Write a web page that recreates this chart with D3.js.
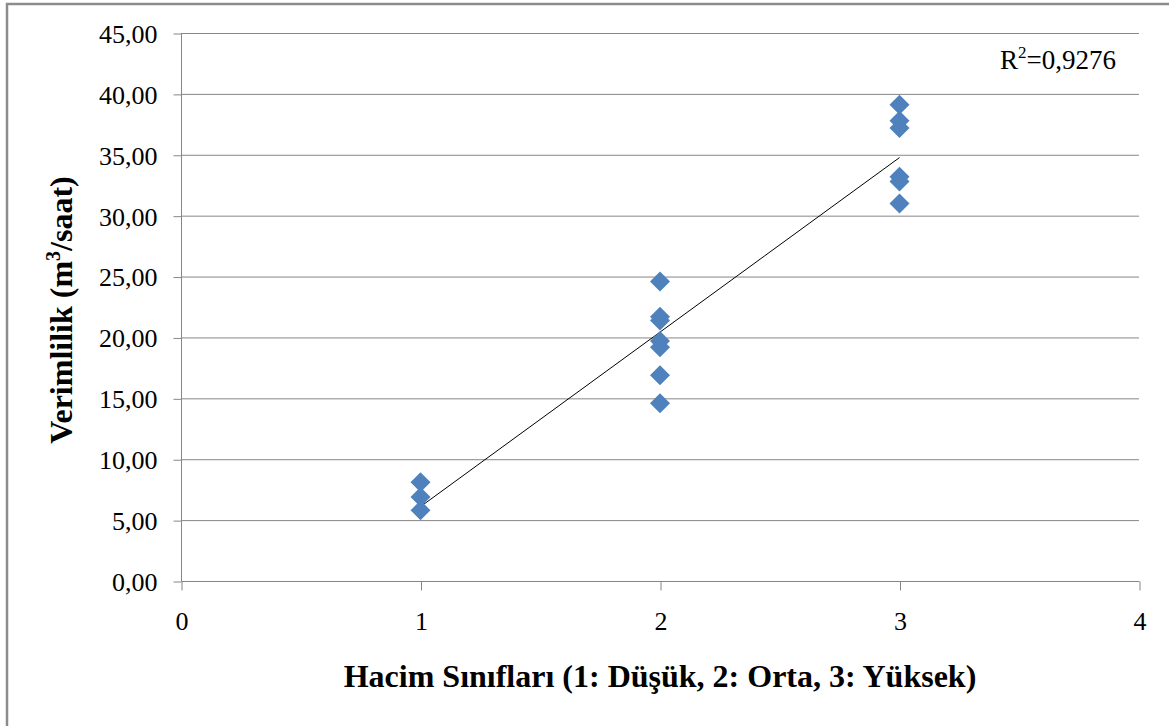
<!DOCTYPE html>
<html>
<head>
<meta charset="utf-8">
<script src="https://cdn.jsdelivr.net/npm/d3@7"></script>
<style>
  html, body { margin: 0; padding: 0; background: #fff; }
  svg { display: block; }
  text { font-family: "Liberation Serif", "Times New Roman", serif; fill: #000; }
</style>
</head>
<body>
<svg id="chart" width="1169" height="726"></svg>
<script>
// Volume class (x) and productivity in m3/hour (y) for each observation
const hacimSinifi = [1, 1, 1,
                     2, 2, 2, 2, 2, 2, 2,
                     3, 3, 3, 3, 3, 3];
const verimlilik  = [8.1, 6.9, 5.8,
                     24.6, 21.7, 21.4, 19.7, 19.2, 16.9, 14.6,
                     39.1, 37.8, 37.2, 33.2, 32.8, 31.0];
const xTicks = [0, 1, 2, 3, 4];
const yTicks = [0, 5, 10, 15, 20, 25, 30, 35, 40, 45];
const r2Label = "0,9276";

const points = hacimSinifi.map((x, i) => ({ x, y: verimlilik[i] }));

const svg = d3.select("#chart");
const margin = { left: 181, right: 30, top: 33, bottom: 145 };
const W = 1169, H = 726;
const serif = '"Liberation Serif", "Times New Roman", serif';
const grid = "#868686";

// outer frame
svg.append("rect")
  .attr("x", 7).attr("y", 4)
  .attr("width", W + 10).attr("height", H + 10)
  .attr("fill", "none").attr("stroke", "#8c8c8c").attr("stroke-width", 2.5);

const x = d3.scaleLinear().domain([0, 4]).range([margin.left, W - margin.right]);
const y = d3.scaleLinear().domain([0, 45]).range([H - margin.bottom, margin.top]);

const fmt = v => d3.format(".2f")(v).replace(".", ",");

// horizontal gridlines
svg.append("g").selectAll("line")
  .data(yTicks.filter(d => d > 0))
  .join("line")
  .attr("x1", x(0)).attr("x2", x(4))
  .attr("y1", d => y(d) + 0.5).attr("y2", d => y(d) + 0.5)
  .attr("stroke", grid).attr("stroke-width", 1);

// y axis
const yAxis = svg.append("g")
  .attr("transform", `translate(${x(0) + 0.5},0.5)`)
  .call(d3.axisLeft(y).tickValues(yTicks).tickFormat(fmt).tickSize(8).tickPadding(16))
  .attr("font-family", serif).attr("font-size", 26);
yAxis.select(".domain").attr("stroke", grid).attr("d", `M0,${y(45)}V${y(0)}`);
yAxis.selectAll(".tick line").attr("stroke", grid);
yAxis.selectAll(".tick text").attr("fill", "#000").attr("dy", "0.34em");

// x axis
const xAxis = svg.append("g")
  .attr("transform", `translate(0.5,${y(0) + 0.5})`)
  .call(d3.axisBottom(x).tickValues(xTicks).tickFormat(d3.format("d")).tickSize(9).tickPadding(21))
  .attr("font-family", serif).attr("font-size", 26);
xAxis.select(".domain").attr("stroke", grid).attr("d", `M${x(0)},0H${x(4)}`);
xAxis.selectAll(".tick line").attr("stroke", grid);
xAxis.selectAll(".tick text").attr("fill", "#000");

// least squares trend line over the observed class range
const xm = d3.mean(points, d => d.x), ym = d3.mean(points, d => d.y);
const slope = d3.sum(points, d => (d.x - xm) * (d.y - ym)) / d3.sum(points, d => (d.x - xm) ** 2);
const icpt = ym - slope * xm;
const [xmin, xmax] = d3.extent(points, d => d.x);
svg.append("line")
  .attr("x1", x(xmin)).attr("y1", y(icpt + slope * xmin))
  .attr("x2", x(xmax)).attr("y2", y(icpt + slope * xmax))
  .attr("stroke", "#000").attr("stroke-width", 1);

// diamond markers
const diamond = d3.symbol().type(d3.symbolSquare).size(200);
svg.append("g").selectAll("path")
  .data(points)
  .join("path")
  .attr("d", diamond)
  .attr("transform", d => `translate(${x(d.x)},${y(d.y)}) rotate(45)`)
  .attr("fill", "#4f81bd");

// R-squared label
const r2 = svg.append("text")
  .attr("x", 1000).attr("y", 69)
  .attr("font-family", serif)
  .style("font-size", "27px");
r2.append("tspan").text("R");
r2.append("tspan").attr("dy", -11).style("font-size", "17px").text("2");
r2.append("tspan").attr("dy", 11).text("=" + r2Label);

// axis titles
svg.append("text")
  .attr("x", 660).attr("y", 687)
  .attr("text-anchor", "middle")
  .attr("font-family", serif)
  .style("font-size", "32px").style("font-weight", "bold")
  .text("Hacim Sınıfları (1: Düşük, 2: Orta, 3: Yüksek)");

const yt = svg.append("text")
  .attr("transform", `translate(72,${310}) rotate(-90)`)
  .attr("text-anchor", "middle")
  .attr("font-family", serif)
  .style("font-size", "32px").style("font-weight", "bold");
yt.append("tspan").text("Verimlilik (m");
yt.append("tspan").attr("dy", -12).style("font-size", "20px").text("3");
yt.append("tspan").attr("dy", 12).text("/saat)");
</script>
</body>
</html>
